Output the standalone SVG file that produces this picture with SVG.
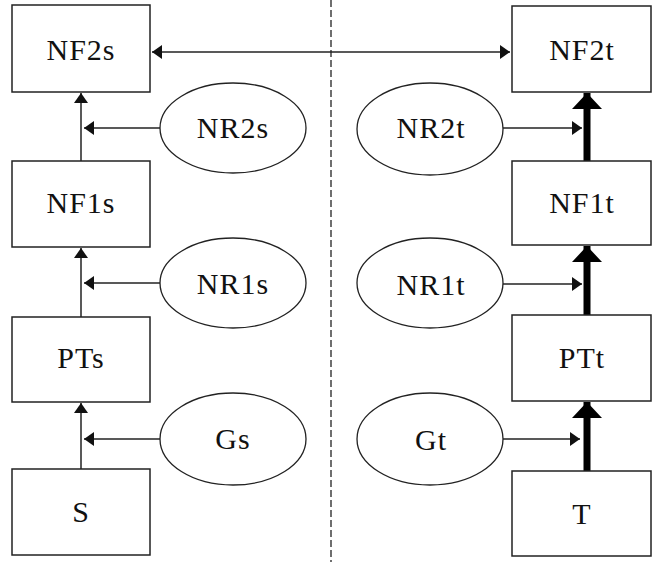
<svg xmlns="http://www.w3.org/2000/svg" width="654" height="562" viewBox="0 0 654 562">
<style>
.box{fill:#fff;stroke:#222;stroke-width:1.5}
.ell{fill:#fff;stroke:#222;stroke-width:1.3}
.lbl{font-family:"Liberation Serif","Times New Roman",serif;font-size:30px;fill:#111;text-anchor:middle;letter-spacing:1px}
.thin{stroke:#222;stroke-width:1.5;fill:none}
.thick{stroke:#000;stroke-width:7;fill:none}
.dash{stroke:#222;stroke-width:1.3;stroke-dasharray:7,3;fill:none}
</style>
<defs>
<marker id="ah" viewBox="0 0 10 14" refX="10" refY="7" markerWidth="10" markerHeight="14" markerUnits="userSpaceOnUse" orient="auto-start-reverse">
<path d="M0,0 L10,7 L0,14 Z" fill="#111"/>
</marker>
<marker id="ahT" viewBox="0 0 16 30" refX="16" refY="15" markerWidth="16" markerHeight="30" markerUnits="userSpaceOnUse" orient="auto">
<path d="M0,0 L16,15 L0,30 Z" fill="#000"/>
</marker>
</defs>
<rect width="654" height="562" fill="#fff"/>
<g id="connectors">
<line class="dash" x1="331" y1="0" x2="331" y2="562"/>
<line class="thin" x1="152" y1="52" x2="510" y2="52" marker-start="url(#ah)" marker-end="url(#ah)"/>
<line class="thin" x1="81" y1="161" x2="81" y2="93" marker-end="url(#ah)"/>
<line class="thin" x1="81" y1="317" x2="81" y2="248" marker-end="url(#ah)"/>
<line class="thin" x1="81" y1="469" x2="81" y2="403" marker-end="url(#ah)"/>
<line class="thin" x1="160" y1="128" x2="84" y2="128" marker-end="url(#ah)"/>
<line class="thin" x1="160" y1="283" x2="84" y2="283" marker-end="url(#ah)"/>
<line class="thin" x1="160" y1="439" x2="84" y2="439" marker-end="url(#ah)"/>
<line class="thin" x1="503" y1="128" x2="582" y2="128" marker-end="url(#ah)"/>
<line class="thin" x1="503" y1="284" x2="582" y2="284" marker-end="url(#ah)"/>
<line class="thin" x1="503" y1="439" x2="580" y2="439" marker-end="url(#ah)"/>
<line class="thick" x1="587" y1="161" x2="587" y2="93" marker-end="url(#ahT)"/>
<line class="thick" x1="587" y1="315" x2="587" y2="246" marker-end="url(#ahT)"/>
<line class="thick" x1="587" y1="471" x2="587" y2="402" marker-end="url(#ahT)"/>
</g>
<g id="NF2s"><rect class="box" x="12" y="5" width="138" height="87"/><text class="lbl" x="81" y="60">NF2s</text></g>
<g id="NF1s"><rect class="box" x="12" y="161" width="138" height="86"/><text class="lbl" x="81" y="213">NF1s</text></g>
<g id="PTs"><rect class="box" x="12" y="317" width="138" height="85"/><text class="lbl" x="81" y="368">PTs</text></g>
<g id="S"><rect class="box" x="12" y="469" width="138" height="86"/><text class="lbl" x="81" y="522">S</text></g>
<g id="NR2s"><ellipse class="ell" cx="233" cy="128" rx="73" ry="45"/><text class="lbl" x="233" y="138">NR2s</text></g>
<g id="NR1s"><ellipse class="ell" cx="233" cy="283" rx="73" ry="45"/><text class="lbl" x="233" y="294">NR1s</text></g>
<g id="Gs"><ellipse class="ell" cx="233" cy="439" rx="73" ry="46"/><text class="lbl" x="233" y="449">Gs</text></g>
<g id="NF2t"><rect class="box" x="512" y="6" width="139" height="86"/><text class="lbl" x="582" y="60">NF2t</text></g>
<g id="NF1t"><rect class="box" x="512" y="161" width="139" height="84"/><text class="lbl" x="582" y="213">NF1t</text></g>
<g id="PTt"><rect class="box" x="512" y="315" width="139" height="86"/><text class="lbl" x="582" y="368">PTt</text></g>
<g id="T"><rect class="box" x="512" y="471" width="139" height="85"/><text class="lbl" x="582" y="524">T</text></g>
<g id="NR2t"><ellipse class="ell" cx="430" cy="129" rx="73" ry="46"/><text class="lbl" x="431" y="138">NR2t</text></g>
<g id="NR1t"><ellipse class="ell" cx="430" cy="283" rx="73" ry="45"/><text class="lbl" x="431" y="295">NR1t</text></g>
<g id="Gt"><ellipse class="ell" cx="430" cy="439" rx="73" ry="46"/><text class="lbl" x="431" y="450">Gt</text></g>
</svg>
